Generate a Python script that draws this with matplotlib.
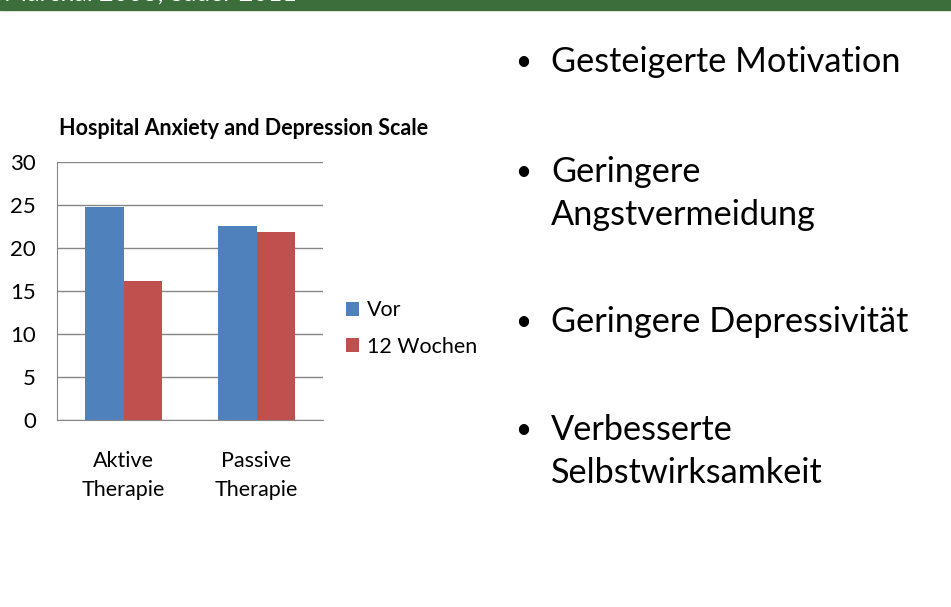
import numpy as np
import matplotlib.pyplot as plt
from matplotlib.patches import Rectangle

plt.rcParams['font.family'] = ['Lato', 'DejaVu Sans']

# data
categories = ["Aktive\nTherapie", "Passive\nTherapie"]
series_names = ["Vor", "12 Wochen"]
vor = [24.8, 22.6]
wochen12 = [16.2, 21.9]
bullets = [
    ["Gesteigerte Motivation"],
    ["Geringere", "Angstvermeidung"],
    ["Geringere Depressivität"],
    ["Verbesserte", "Selbstwirksamkeit"],
]
bullet_y = [62, 172, 322, 430]
colors = ["#4f81bd", "#c0504d"]
grid_c = "#868686"

W, H = 951, 607
fig = plt.figure(figsize=(W / 100, H / 100), dpi=100)

# green header band (cut off at top)
fig.patches.append(Rectangle((0, 1 - 10 / H), 1, 10 / H, transform=fig.transFigure,
                             color="#3b6e3b", zorder=0))
fig.text(4 / W, 1 + 7 / H, "Marchal 2008; Sauer 2011", color="white", fontsize=18,
         ha="left", va="center")

ax = fig.add_axes([57 / W, 1 - 420 / H, 266 / W, (420 - 162.3) / H])
x = np.arange(len(categories))
bw = 0.286
ax.bar(x - bw / 2, vor, bw, color=colors[0], label=series_names[0], zorder=3)
ax.bar(x + bw / 2, wochen12, bw, color=colors[1], label=series_names[1], zorder=3)
ax.set_xlim(-0.5, 1.5)
ax.set_ylim(0, 30)
ax.set_yticks(range(0, 31, 5))
ax.set_xticks(x)
ax.set_xticklabels(categories, fontsize=15.5, linespacing=1.6)
ax.tick_params(axis="x", length=0, pad=22)
ax.tick_params(axis="y", length=0, labelsize=16, pad=15)
ax.grid(axis="y", color=grid_c, linewidth=1, zorder=0)
for s in ["top", "right"]:
    ax.spines[s].set_visible(False)
for s in ["left", "bottom"]:
    ax.spines[s].set_color(grid_c)
ax.set_title("Hospital Anxiety and Depression Scale", fontsize=15.5, fontweight="bold",
             x=(244 - 57) / 266, y=1.0, pad=20)

ax.legend(loc="center left", bbox_to_anchor=(1.088, 0.355), frameon=False, fontsize=15.5,
          handlelength=0.6, handleheight=0.6, handletextpad=0.35, labelspacing=0.75,
          borderpad=0, borderaxespad=0)

line_h = 43
for lines, yy in zip(bullets, bullet_y):
    fig.text(515 / W, 1 - yy / H, "•", fontsize=20, va="center", ha="left")
    for i, ln in enumerate(lines):
        fig.text(551 / W, 1 - (yy + i * line_h) / H, ln, fontsize=24.7,
                 va="center", ha="left")

fig.savefig("out.png", dpi=100)
